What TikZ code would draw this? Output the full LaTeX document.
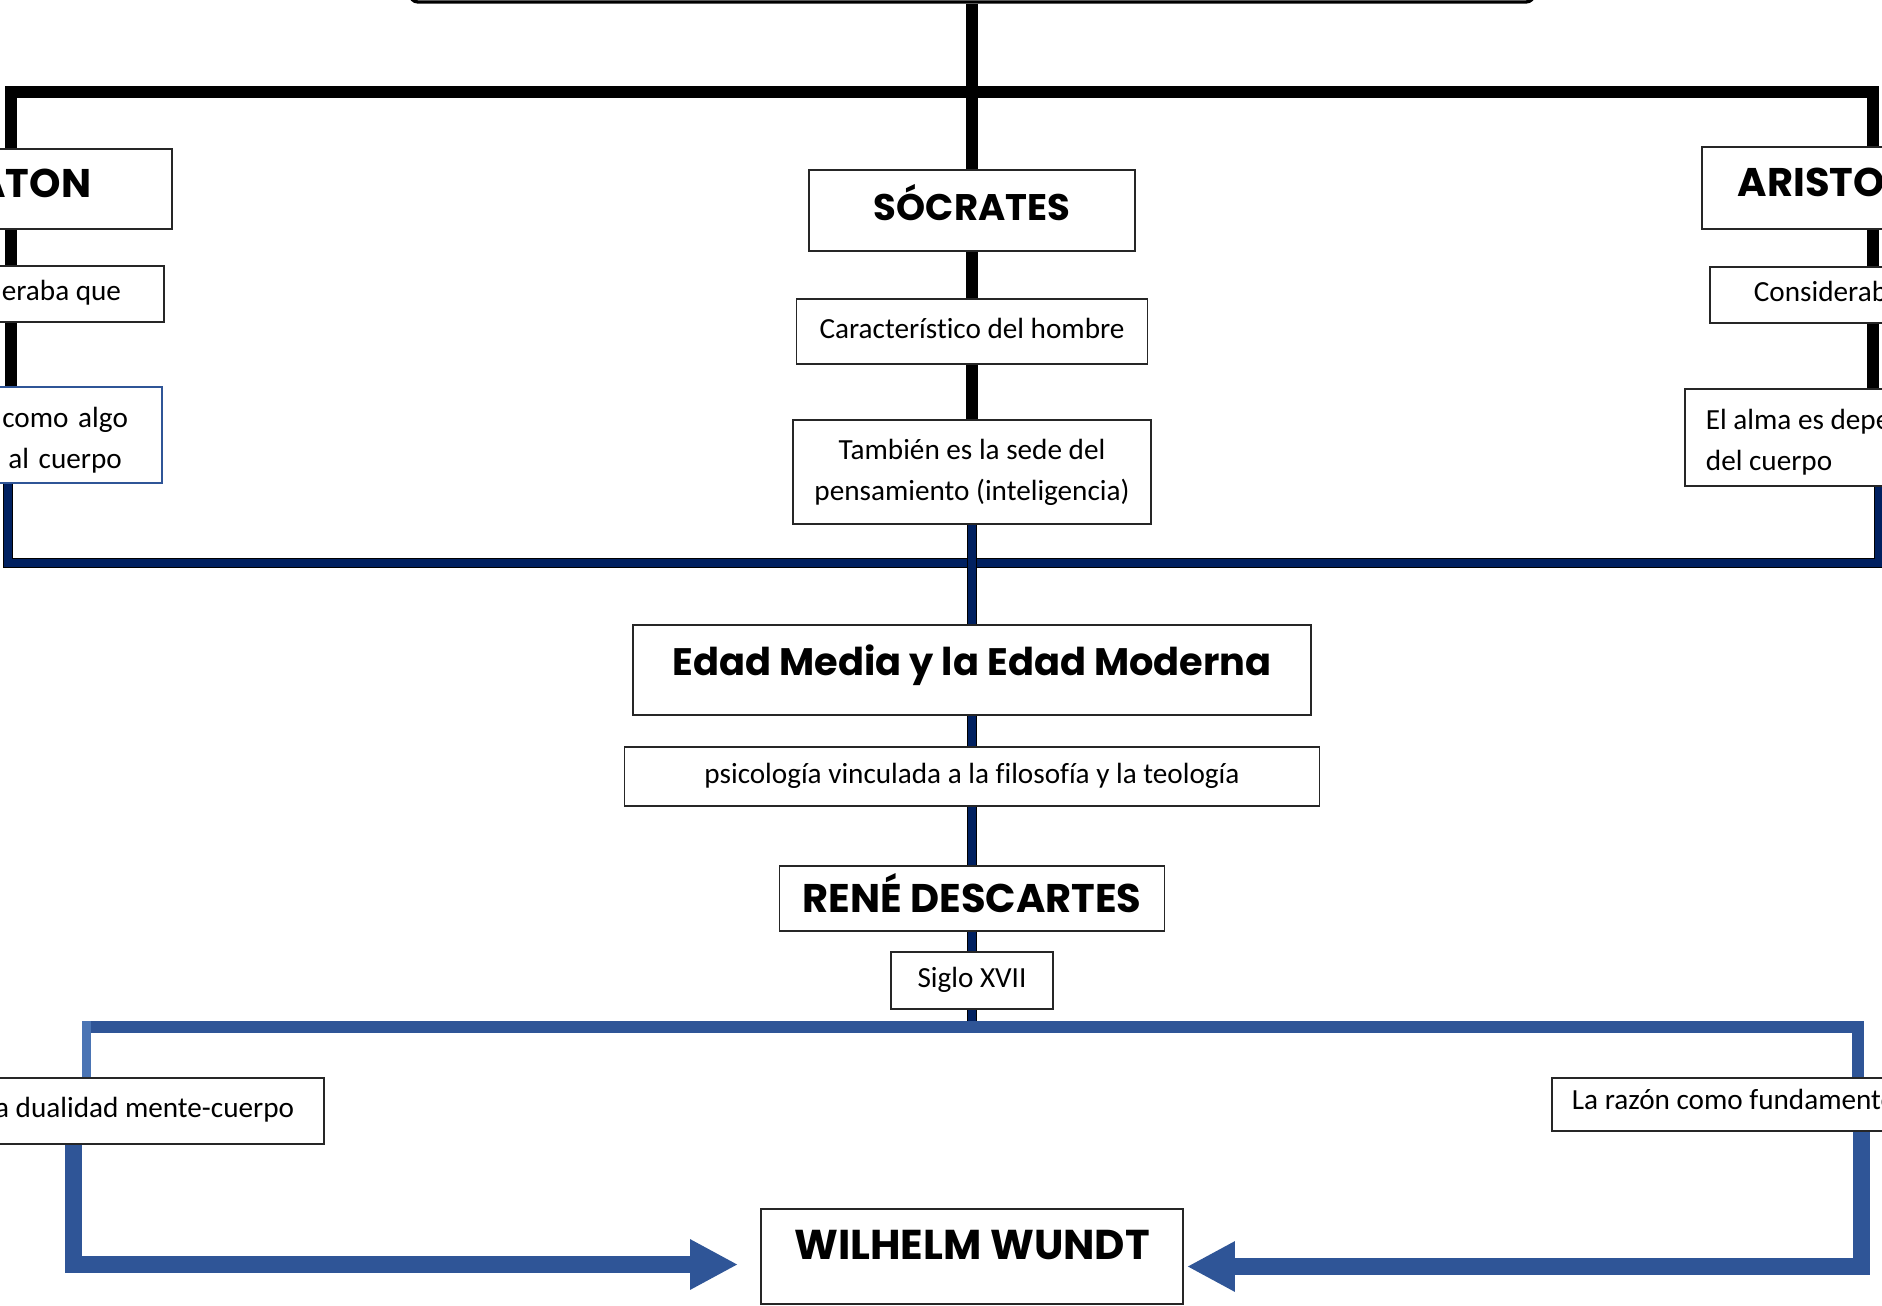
\documentclass[tikz,border=0pt]{standalone}
\usepackage{fontspec}
\setmainfont{Carlito}[Ligatures=NoCommon]
\newfontfamily\headfont{Poppins}
\usetikzlibrary{arrows.meta}
\definecolor{marino}{HTML}{002060}
\definecolor{azul}{HTML}{2F5597}
\definecolor{azultenue}{HTML}{4A74B4}
\tikzset{
  caja/.style={draw=black!85, line width=1.8pt, fill=white, inner sep=0pt, align=center,
    font=\fontsize{29.2}{41}\selectfont},
  linea/.style={caja, text height=20pt, text depth=6pt},
  jefe/.style={caja, font=\headfont\bfseries\fontsize{#1}{#1}\selectfont, text height=28pt},
  jefe/.default=40,
  negra/.style={line width=12pt, black},
  marina/.style={draw=black, line width=1.5pt, double=marino, double distance=7.5pt},
  azulada/.style={line width=12pt, azul},
  flecha/.style={line width=17pt, azul, -{Triangle[length=48pt, width=47pt]}}
}
\newcommand{\alto}{\rule{0pt}{30pt}}

\begin{document}
\begin{tikzpicture}[x=1pt, y=-1pt]
\useasboundingbox (0,0) rectangle (1882,1306);
\clip (0,0) rectangle (1882,1306);
\fill[white] (0,0) rectangle (1882,1306);

\node[draw, line width=3.3pt, rounded corners=8pt, minimum width=1124pt, minimum height=100pt] (titulo) at (972,-48) {};

% izquierda
\node[jefe, anchor=north east, inner xsep=81pt, minimum height=80pt, text depth=11pt] (platon) at (173,148) {PLATON};
\node[linea, anchor=north east, inner xsep=43pt, minimum height=56pt] (consP) at (165,265) {Consideraba que};
\node[caja, anchor=north east, draw=azul, text width=174pt, inner xsep=10pt, minimum height=96pt] (almaP) at (163,386) {\alto como algo\\al cuerpo};

% centro
\node[jefe=37, minimum width=326pt, minimum height=81pt, text depth=8pt] (socrates) at (972,210.5) {SÓCRATES};
\node[linea, minimum width=351pt, minimum height=65pt] (caract) at (972,331.5) {Característico del hombre};
\node[caja, minimum width=358pt, minimum height=104pt] (sede) at (972,472) {También es la sede del\\pensamiento (inteligencia)};

% derecha
\node[jefe, anchor=north west, inner xsep=36pt, minimum height=82pt, text depth=10pt] (aristo) at (1701,146) {ARISTOTELES};
\node[linea, anchor=north west, inner xsep=44pt, minimum height=56pt] (consA) at (1709,266) {Consideraba que};
\node[caja, anchor=north west, inner xsep=21pt, minimum height=97pt, align=left] (almaA) at (1684,388) {\alto El alma es dependiente\\del cuerpo};

\node[jefe=38.3, minimum width=678pt, minimum height=90pt, text depth=17pt] (edad) at (972,670) {Edad Media y la Edad Moderna};
\node[linea, minimum width=695pt, minimum height=59pt] (psico) at (972,776.5) {psicología vinculada a la filosofía y la teología};
\node[jefe, minimum width=385pt, minimum height=65pt, text depth=0pt] (descartes) at (972,898.5) {RENÉ DESCARTES};
\node[linea, minimum width=162pt, minimum height=57pt] (siglo) at (972,980.5) {Siglo XVII};

\node[linea, anchor=north east, inner xsep=30pt, minimum height=66pt] (dualidad) at (325,1077) {La dualidad mente-cuerpo};
\node[linea, anchor=north west, inner xsep=20pt, minimum height=53pt, text depth=9pt] (razon) at (1551,1077) {La razón como fundamento};
\node[jefe=41.7, minimum width=422pt, minimum height=95pt, text depth=23pt] (wundt) at (972,1256.5) {WILHELM WUNDT};

\coordinate (bi) at (10.5,92);
\coordinate (bd) at (1872.5,92);
\coordinate (ni) at (8,563);
\coordinate (nd) at (1879,563);
\coordinate (ai) at (86.5,1027);
\coordinate (ad) at (1858,1027);

\draw[negra] (titulo.south) -- (socrates.north);
\draw[negra] (bi |- platon.north) -- (bi) -- (bd) -- (bd |- aristo.north);
\draw[negra] (bi |- platon.south) -- (bi |- consP.north);
\draw[negra] (bi |- consP.south) -- (bi |- almaP.north);
\draw[negra] (bd |- aristo.south) -- (bd |- consA.north);
\draw[negra] (bd |- consA.south) -- (bd |- almaA.north);
\draw[negra] (socrates.south) -- (caract.north);
\draw[negra] (caract.south) -- (sede.north);

\draw[marina] (ni |- almaP.south) -- (ni) -- (nd) -- (nd |- almaA.south);
\draw[marina] (sede.south) -- (edad.north);
\draw[marina] (edad.south) -- (psico.north);
\draw[marina] (psico.south) -- (descartes.north);
\draw[marina] (descartes.south) -- (siglo.north);
\draw[marina] (siglo.south) -- (siglo.south |- ai);

\draw[azulada] (ai) -- (ad) -- (ad |- razon.north);
\draw[line width=9pt, azultenue] ([yshift=6pt]ai) -- (ai |- dualidad.north);

\draw[flecha] ([xshift=-251.5pt]dualidad.south east) |- ([xshift=-22pt, yshift=-8pt]wundt.west);
\draw[flecha] ([xshift=310pt]razon.south west) |- ([xshift=3pt, yshift=-10pt]wundt.east);
\end{tikzpicture}
\end{document}
